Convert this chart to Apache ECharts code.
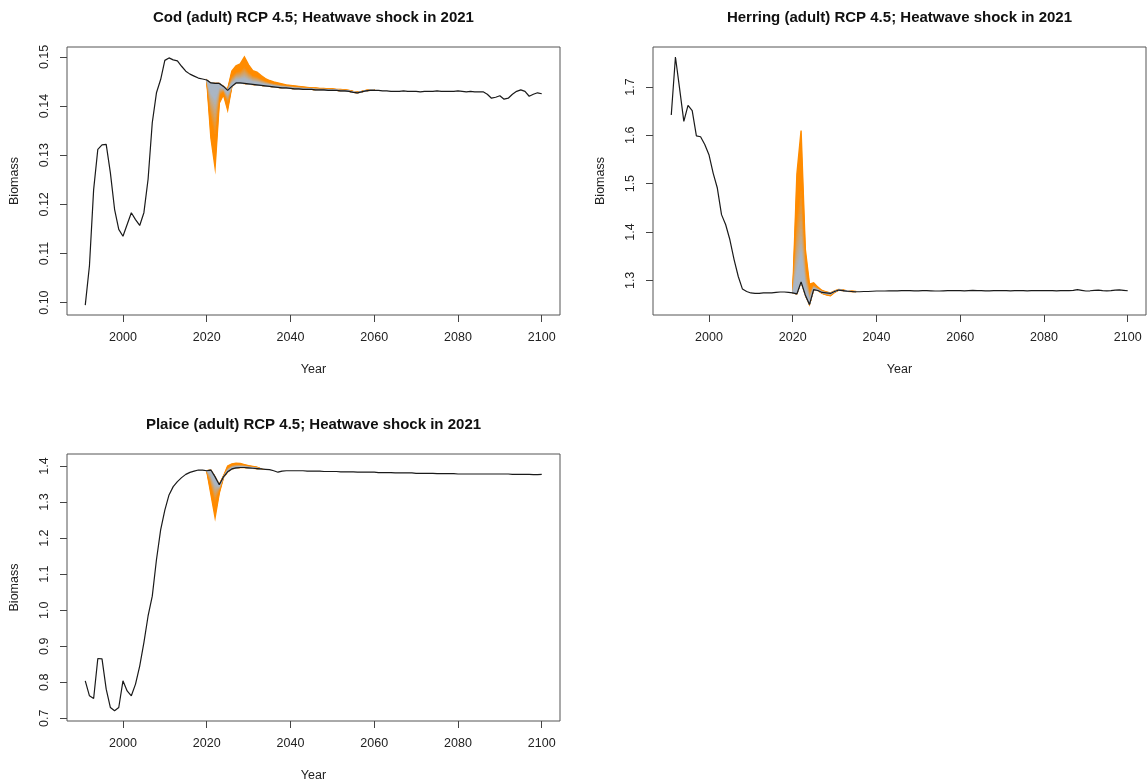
<!DOCTYPE html>
<html><head><meta charset="utf-8">
<script src="https://cdn.jsdelivr.net/npm/echarts@6/dist/echarts.min.js"></script>
<style>html,body{margin:0;padding:0;background:#fff}#c{width:1147px;height:783px}</style>
</head><body><div id="c"></div>
<script>
// ---------- data ----------
const firstYear = 1991;
const lastYear = 2100;
const shockStart = 2020;
const xTicks = [2000, 2020, 2040, 2060, 2080, 2100];

const codTicks = [0.10, 0.11, 0.12, 0.13, 0.14, 0.15];
const herringTicks = [1.3, 1.4, 1.5, 1.6, 1.7];
const plaiceTicks = [0.7, 0.8, 0.9, 1.0, 1.1, 1.2, 1.3, 1.4];

// baseline runs, 1991..2100
const codBase = [
 0.0995,0.1075,0.1230,0.1312,0.1321,0.1322,0.1264,0.1190,0.1149,0.1135,
 0.1159,0.1183,0.1169,0.1157,0.1183,0.1251,0.1366,0.1427,0.1454,0.1493,
 0.1498,0.1494,0.1492,0.1481,0.1471,0.1465,0.1461,0.1457,0.1455,0.1453,
 0.1447,0.1446,0.1446,0.1440,0.1432,0.1440,0.1447,0.1447,0.1446,0.1445,
 0.1444,0.1443,0.1442,0.1441,0.1440,0.1439,0.1438,0.1437,0.1437,0.1436,
 0.1435,0.1435,0.1434,0.1434,0.1434,0.1433,0.1433,0.1433,0.1432,0.1432,
 0.1432,0.1431,0.1431,0.1430,0.1428,0.1427,0.1429,0.1431,0.1432,0.1432,
 0.1432,0.1431,0.1431,0.1430,0.1430,0.1430,0.1431,0.1430,0.1430,0.1430,
 0.1429,0.1430,0.1430,0.1430,0.1431,0.1430,0.1430,0.1430,0.1430,0.1431,
 0.1430,0.1429,0.1430,0.1429,0.1429,0.1429,0.1424,0.1416,0.1418,0.1421,
 0.1414,0.1416,0.1424,0.1430,0.1433,0.1430,0.1420,0.1424,0.1427,0.1425
];
// shock ensemble envelope, 2020..2060
const codUpper = [
 0.1453,0.1447,0.1446,0.1446,0.1440,0.1434,0.1471,0.1482,0.1486,0.1500,
 0.1484,0.1472,0.1469,0.1462,0.1456,0.1452,0.1449,0.1447,0.1445,0.1443,
 0.1442,0.1441,0.1440,0.1439,0.1438,0.1437,0.1437,0.1436,0.1436,0.1435,
 0.1435,0.1434,0.1434,0.1433,0.1432,0.1430,0.1429,0.1430,0.1432,0.1433,0.1433
];
const codLower = [
 0.1453,0.1335,0.1274,0.1406,0.1423,0.1392,0.1440,0.1447,0.1447,0.1446,
 0.1445,0.1444,0.1443,0.1442,0.1441,0.1440,0.1439,0.1438,0.1437,0.1437,
 0.1436,0.1435,0.1435,0.1434,0.1434,0.1434,0.1433,0.1433,0.1433,0.1432,
 0.1432,0.1432,0.1431,0.1431,0.1430,0.1428,0.1427,0.1429,0.1431,0.1432,0.1432
];

const herringBase = [
 1.642,1.762,1.696,1.629,1.662,1.651,1.599,1.597,1.581,1.560,
 1.522,1.491,1.436,1.415,1.384,1.343,1.308,1.282,1.277,1.274,
 1.273,1.273,1.274,1.274,1.274,1.275,1.276,1.276,1.275,1.274,
 1.272,1.297,1.270,1.250,1.281,1.279,1.275,1.274,1.273,1.277,
 1.280,1.279,1.2775,1.277,1.2765,1.2765,1.277,1.277,1.2775,1.278,
 1.278,1.278,1.2785,1.2785,1.2785,1.279,1.279,1.279,1.2785,1.2785,
 1.279,1.279,1.2785,1.278,1.278,1.2785,1.279,1.279,1.279,1.279,
 1.2785,1.279,1.2795,1.279,1.279,1.2785,1.2785,1.279,1.279,1.279,
 1.279,1.2785,1.279,1.279,1.279,1.2785,1.279,1.279,1.279,1.279,
 1.279,1.279,1.2785,1.279,1.279,1.279,1.2795,1.281,1.2795,1.278,
 1.2785,1.2795,1.280,1.279,1.2785,1.279,1.280,1.2805,1.2795,1.2785
];
// envelope 2020..2035
const herringUpper = [
 1.274,1.520,1.610,1.365,1.292,1.295,1.286,1.279,1.276,1.274,
 1.278,1.281,1.280,1.278,1.2775,1.277
];
const herringLower = [
 1.274,1.272,1.297,1.270,1.250,1.281,1.279,1.273,1.270,1.268,
 1.275,1.280,1.279,1.2775,1.277,1.2765
];

const plaiceBase = [
 0.804,0.7625,0.755,0.866,0.865,0.781,0.730,0.721,0.730,0.804,
 0.776,0.7625,0.795,0.845,0.910,0.984,1.039,1.140,1.223,1.278,
 1.320,1.343,1.357,1.368,1.377,1.3826,1.386,1.389,1.389,1.387,
 1.389,1.370,1.348,1.370,1.384,1.392,1.395,1.396,1.396,1.395,
 1.394,1.393,1.392,1.391,1.390,1.387,1.383,1.386,1.387,1.387,
 1.387,1.387,1.387,1.386,1.386,1.386,1.386,1.385,1.385,1.385,
 1.385,1.384,1.384,1.384,1.384,1.383,1.383,1.383,1.383,1.383,
 1.382,1.382,1.382,1.382,1.381,1.381,1.381,1.381,1.381,1.380,
 1.380,1.380,1.380,1.380,1.379,1.379,1.379,1.379,1.379,1.378,
 1.378,1.378,1.378,1.378,1.378,1.378,1.378,1.378,1.378,1.378,
 1.378,1.378,1.377,1.377,1.377,1.377,1.377,1.376,1.376,1.377
];
// envelope 2020..2033
const plaiceUpper = [
 1.387,1.389,1.370,1.348,1.372,1.400,1.406,1.408,1.407,1.404,
 1.401,1.399,1.397,1.392
];
const plaiceLower = [
 1.387,1.322,1.257,1.325,1.368,1.384,1.392,1.395,1.396,1.396,
 1.395,1.394,1.393,1.392
];

// ---------- chart ----------
const years = [];
for (let y = firstYear; y <= lastYear; y++) years.push(y);

const FONT = 'Liberation Sans, Arial, Helvetica, sans-serif';
const panels = [
  {title:'Cod (adult) RCP 4.5; Heatwave shock in 2021', base:codBase, up:codUpper, lo:codLower,
   ticks:codTicks, dec:2, min:0.09748, max:0.15202, left:67, top:47},
  {title:'Herring (adult) RCP 4.5; Heatwave shock in 2021', base:herringBase, up:herringUpper, lo:herringLower,
   ticks:herringTicks, dec:1, min:1.2284, max:1.7827, left:653, top:47},
  {title:'Plaice (adult) RCP 4.5; Heatwave shock in 2021', base:plaiceBase, up:plaiceUpper, lo:plaiceLower,
   ticks:plaiceTicks, dec:1, min:0.6926, max:1.4335, left:67, top:454}
];
const W = 493, H = 268;
const NLAYERS = 20;

const grids = [], xAxes = [], yAxes = [], series = [], graphics = [];
const ORANGE = [255, 140, 0], GREY = [170, 182, 196];
function mix(w) {
  const c = GREY.map((g, i) => Math.round(g + (ORANGE[i] - g) * w));
  return 'rgb(' + c.join(',') + ')';
}

panels.forEach((p, gi) => {
  grids.push({left:p.left, top:p.top, width:W, height:H, show:true,
    borderColor:'#555', borderWidth:1, backgroundColor:'transparent'});
  xAxes.push({type:'value', gridIndex:gi, min:1986.64, max:2104.36,
    axisLine:{show:false}, splitLine:{show:false},
    axisTick:{show:true, length:7, customValues:xTicks, lineStyle:{color:'#444'}},
    axisLabel:{customValues:xTicks, margin:16, color:'#222', fontSize:12.5, fontFamily:FONT,
      formatter: v => String(Math.round(v))},
    name:'Year', nameLocation:'middle', nameGap:48,
    nameTextStyle:{color:'#222', fontSize:12.5, fontFamily:FONT}});
  yAxes.push({type:'value', gridIndex:gi, min:p.min, max:p.max,
    axisLine:{show:false}, splitLine:{show:false},
    axisTick:{show:true, length:7, customValues:p.ticks, lineStyle:{color:'#444'}},
    axisLabel:{customValues:p.ticks, rotate:90, margin:16, color:'#222', fontSize:12.5, fontFamily:FONT,
      formatter: v => Number(v).toFixed(p.dec)},
    name:'Biomass', nameLocation:'middle', nameGap:46,
    nameTextStyle:{color:'#222', fontSize:12.5, fontFamily:FONT}});
  graphics.push({type:'text', x:p.left + W/2, y:p.top - 29,
    style:{text:p.title, font:'bold 15px ' + FONT, fill:'#111', align:'center', verticalAlign:'middle'}});

  // shaded ensemble: one polygon per layer, from the outer envelope inward
  const layerData = [];
  for (let k = 0; k < NLAYERS; k++) layerData.push([shockStart, p.base[shockStart - firstYear]]);
  series.push({type:'custom', xAxisIndex:gi, yAxisIndex:gi, data:layerData, z:1, silent:true,
    clip:true,
    renderItem: (params, api) => {
      const k = params.dataIndex;
      const f = 1 - k / NLAYERS;
      const top = [], bot = [];
      for (let i = 0; i < p.up.length; i++) {
        const yr = shockStart + i;
        const b = p.base[yr - firstYear];
        top.push(api.coord([yr, b + f * (p.up[i] - b)]));
        bot.push(api.coord([yr, b + f * (p.lo[i] - b)]));
      }
      const w = Math.max(0, Math.min(1, (f - 0.2) / 0.45));
      const col = mix(w);
      return {type:'polygon', shape:{points: top.concat(bot.reverse())},
        style:{fill:col, stroke:col, lineWidth: k === 0 ? 1.4 : 0.6}};
    }});
  series.push({type:'line', xAxisIndex:gi, yAxisIndex:gi, symbol:'none', z:5,
    data: years.map((yr, i) => [yr, p.base[i]]),
    lineStyle:{color:'#1a1a1a', width:1.2}});
});

const chart = echarts.init(document.getElementById('c'), null, {renderer:'canvas'});
chart.setOption({
  animation:false, backgroundColor:'#fff',
  grid:grids, xAxis:xAxes, yAxis:yAxes, series:series, graphic:graphics
});
</script>
</body></html>
